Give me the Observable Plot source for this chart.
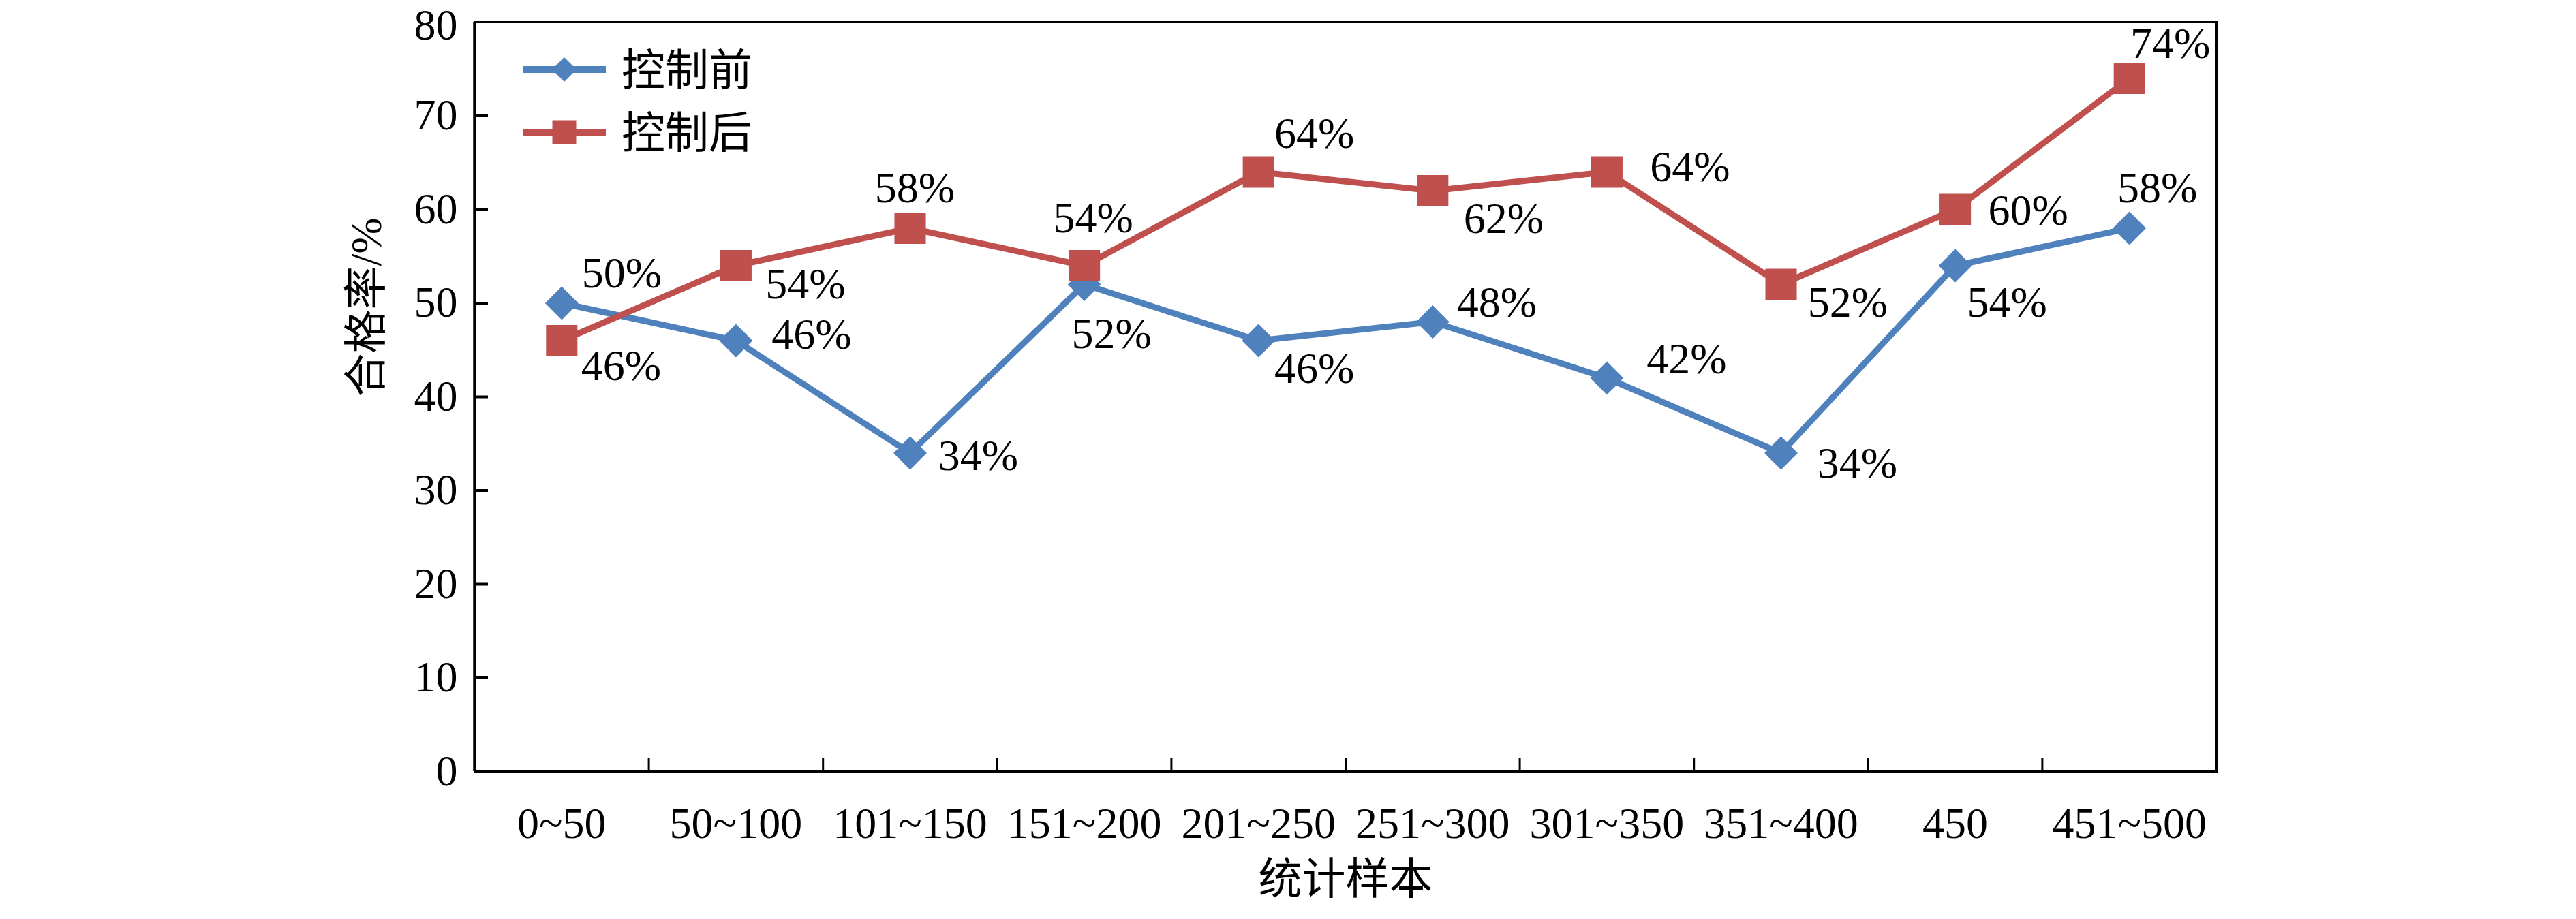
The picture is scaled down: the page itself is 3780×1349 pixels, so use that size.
<!DOCTYPE html>
<html>
<head>
<meta charset="utf-8">
<script src="https://cdn.jsdelivr.net/npm/d3@7"></script>
<script src="https://cdn.jsdelivr.net/npm/@observablehq/plot@0.6"></script>
<style>
  html, body { margin: 0; padding: 0; background: #fff; }
  #wrap { position: relative; width: 3780px; height: 1349px; overflow: hidden;
          font-family: "Liberation Serif", "Times New Roman", "Noto Sans CJK SC", serif; }
  #legend { position: absolute; left: 0; top: 0; }
</style>
</head>
<body>
<div id="wrap"></div>
<script>
// ---------------- data ----------------
const categories = ["0~50", "50~100", "101~150", "151~200", "201~250", "251~300", "301~350", "351~400", "450", "451~500"];
const beforeValues = [50, 46, 34, 52, 46, 48, 42, 34, 54, 58];   // 控制前
const afterValues  = [46, 54, 58, 54, 64, 62, 64, 52, 60, 74];   // 控制后
const seriesNames = ["控制前", "控制后"];
const yTicks = [0, 10, 20, 30, 40, 50, 60, 70, 80];
const xTitle = "统计样本";
const yTitle = "合格率/%";

// ---------------- label placement (pixels, relative to each point) ----------------
const beforeLabelOffsets = [[88,-43],[111,-8],[100,5],[40,73],[82,42],[94,-28],[117,-27],[112,16],[76,55],[41,-58]];
const afterLabelOffsets  = [[87,38],[102,28],[7,-58],[13,-69],[82,-56],[104,42],[122,-7],[98,27],[107,2],[60,-50]];

// ---------------- style ----------------
const BLUE = "#4F81BD", RED = "#C0504D";
const SERIF = '"Liberation Serif", "Times New Roman", "Noto Sans CJK SC", serif';
const W = 3780, H = 1349;
const mL = 696, mR = W - 3252, mT = 32, mB = H - 1132;
const plotW = W - mL - mR, plotH = H - mT - mB;
const FS = 64;

const series = [
  {name: seriesNames[0], values: beforeValues, color: BLUE, symbol: "diamond2", r: 22, offsets: beforeLabelOffsets},
  {name: seriesNames[1], values: afterValues, color: RED, symbol: "square", r: 26, offsets: afterLabelOffsets}
];

const rows = series.map(s => s.values.map((v, i) => ({i, pos: i + 0.5, v, label: v + "%", name: s.name})));
const bandCenters = categories.map((c, i) => i + 0.5);
const bandBounds = categories.slice(1).map((c, i) => i + 1);

const marks = [];
// inward tick marks
marks.push(Plot.tickY(yTicks.slice(1, -1), {y: d => d, stroke: "#000", strokeWidth: 4, insetRight: plotW - 20}));
marks.push(Plot.tickX(bandBounds, {x: d => d, stroke: "#000", strokeWidth: 3, insetTop: plotH - 20}));
// axes text
marks.push(Plot.axisY({ticks: yTicks.slice(0, -1), tickSize: 0, tickPadding: 25, fontSize: FS, fontFamily: SERIF, label: null}));
marks.push(Plot.axisY({ticks: yTicks.slice(-1), tickSize: 0, tickPadding: 25, dy: 5, fontSize: FS, fontFamily: SERIF, label: null}));
marks.push(Plot.axisX({ticks: bandCenters, tickSize: 0, tickPadding: 52, fontSize: FS, fontFamily: SERIF, label: null,
  tickFormat: d => categories[Math.floor(d)]}));
// frame
marks.push(Plot.frame({stroke: "#000", strokeWidth: 3}));
marks.push(Plot.ruleX([0], {stroke: "#000", strokeWidth: 4.5}));
marks.push(Plot.ruleY([0], {stroke: "#000", strokeWidth: 4.5}));
// series
series.forEach((s, k) => {
  marks.push(Plot.line(rows[k], {x: "pos", y: "v", stroke: s.color, strokeWidth: 9, strokeLinejoin: "miter", strokeLinecap: "butt"}));
  marks.push(Plot.dot(rows[k], {x: "pos", y: "v", symbol: () => s.symbol, r: s.r, fill: s.color, stroke: "none"}));
});
// value labels
series.forEach((s, k) => {
  rows[k].forEach((d, j) => {
    marks.push(Plot.text([d], {x: "pos", y: "v", text: "label", fontSize: FS, fontFamily: SERIF, fill: "#000",
      dx: s.offsets[j][0], dy: s.offsets[j][1]}));
  });
});
// axis titles
marks.push(Plot.text([yTitle], {frameAnchor: "left", dx: -158, rotate: -90, fontSize: FS, fontFamily: SERIF, fill: "#000"}));
marks.push(Plot.text([xTitle], {frameAnchor: "bottom", dy: 179, fontSize: FS, fontFamily: SERIF, fill: "#000"}));

const chart = Plot.plot({
  width: W, height: H,
  marginLeft: mL, marginRight: mR, marginTop: mT, marginBottom: mB,
  style: {fontFamily: SERIF, fontSize: FS + "px", background: "#fff", color: "#000"},
  x: {type: "linear", domain: [0, categories.length], axis: null},
  y: {domain: [yTicks[0], yTicks[yTicks.length - 1]], axis: null},
  symbol: {type: "identity"},
  marks
});
document.getElementById("wrap").appendChild(chart);

// ---------------- legend (overlay) ----------------
const legendItems = [
  {name: seriesNames[0], color: BLUE, sym: d3.symbolDiamond2, size: 825, cy: 102},
  {name: seriesNames[1], color: RED, sym: d3.symbolSquare, size: 1225, cy: 194}
];
const lg = d3.select("#wrap").append("svg").attr("id", "legend").attr("width", 1300).attr("height", 300);
legendItems.forEach(it => {
  const g = lg.append("g");
  g.append("line").attr("x1", 768).attr("x2", 889).attr("y1", it.cy).attr("y2", it.cy)
    .attr("stroke", it.color).attr("stroke-width", 10);
  g.append("path").attr("d", d3.symbol(it.sym, it.size)()).attr("transform", `translate(828,${it.cy})`)
    .attr("fill", it.color);
  g.append("text").attr("x", 912).attr("y", it.cy).attr("dy", "0.36em")
    .attr("font-size", FS).attr("font-family", SERIF).attr("fill", "#000").text(it.name);
});
</script>
</body>
</html>
